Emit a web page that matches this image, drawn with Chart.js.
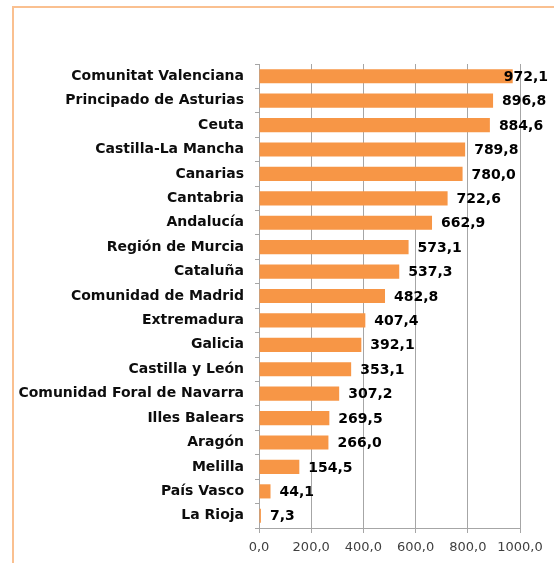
<!DOCTYPE html>
<html>
<head>
<meta charset="utf-8">
<script src="https://cdn.jsdelivr.net/npm/chart.js@4"></script>
<style>
  html, body { margin: 0; padding: 0; background: #fff; }
  #wrap { position: relative; width: 554px; height: 563px; }
  #frame { position: absolute; left: 12px; top: 6px; right: 0; bottom: 0; border-left: 2px solid #FAC090; border-top: 2px solid #FAC090; }
  canvas { position: absolute; left: 0; top: 0; }
</style>
</head>
<body>
<div id="wrap">
  <div id="frame"></div>
  <canvas id="barChart" width="554" height="563"></canvas>
</div>
<script>
const regiones = [
    'Comunitat Valenciana', 'Principado de Asturias', 'Ceuta', 'Castilla-La Mancha',
    'Canarias', 'Cantabria', 'Andalucía', 'Región de Murcia', 'Cataluña',
    'Comunidad de Madrid', 'Extremadura', 'Galicia', 'Castilla y León',
    'Comunidad Foral de Navarra', 'Illes Balears', 'Aragón', 'Melilla',
    'País Vasco', 'La Rioja'
];
const valores = [
    972.1, 896.8, 884.6, 789.8, 780.0, 722.6, 662.9, 573.1, 537.3,
    482.8, 407.4, 392.1, 353.1, 307.2, 269.5, 266.0, 154.5, 44.1, 7.3
];
const ticksX = [0, 200, 400, 600, 800, 1000];

const fmt = v => v.toFixed(1).replace('.', ',');

// etiquetas de valor al final de cada barra
const valueLabels = {
    id: 'valueLabels',
    afterDatasetsDraw(chart) {
        const ctx = chart.ctx;
        const meta = chart.getDatasetMeta(0);
        ctx.save();
        ctx.font = 'bold 14px "DejaVu Sans"';
        ctx.fillStyle = '#000';
        ctx.textBaseline = 'middle';
        meta.data.forEach((bar, i) => {
            const txt = fmt(valores[i]);
            const w = ctx.measureText(txt).width;
            let x = bar.x + 9;
            if (x + w > 548) x = 548 - w;
            ctx.fillText(txt, x, bar.y + 1);
        });
        ctx.restore();
    }
};

new Chart(document.getElementById('barChart'), {
    type: 'bar',
    data: {
        labels: regiones,
        datasets: [{
            data: valores,
            backgroundColor: '#F79646',
            borderWidth: 0,
            categoryPercentage: 1,
            barPercentage: 0.58
        }]
    },
    plugins: [valueLabels],
    options: {
        indexAxis: 'y',
        responsive: false,
        animation: false,
        events: [],
        layout: { padding: { left: 0, top: 64, right: 34, bottom: 0 } },
        plugins: { legend: { display: false }, tooltip: { enabled: false } },
        scales: {
            x: {
                min: 0,
                max: 1000,
                afterBuildTicks: scale => { scale.ticks = ticksX.map(v => ({ value: v })); },
                afterFit: scale => { scale.height = 35; },
                grid: { color: '#A6A6A6', tickLength: 5, lineWidth: 1 },
                border: { color: '#A6A6A6' },
                ticks: {
                    color: '#404040',
                    font: { family: '"DejaVu Sans"', size: 13 },
                    padding: 7,
                    maxRotation: 0,
                    callback: v => fmt(v)
                }
            },
            y: {
                afterFit: scale => { scale.width = 259; },
                grid: { drawOnChartArea: false, color: '#A6A6A6', tickLength: 4, offset: true },
                border: { color: '#A6A6A6' },
                ticks: {
                    color: '#0D0D0D',
                    font: { family: '"DejaVu Sans"', size: 14, weight: 'bold' },
                    padding: 11
                }
            }
        }
    }
});
</script>
</body>
</html>
